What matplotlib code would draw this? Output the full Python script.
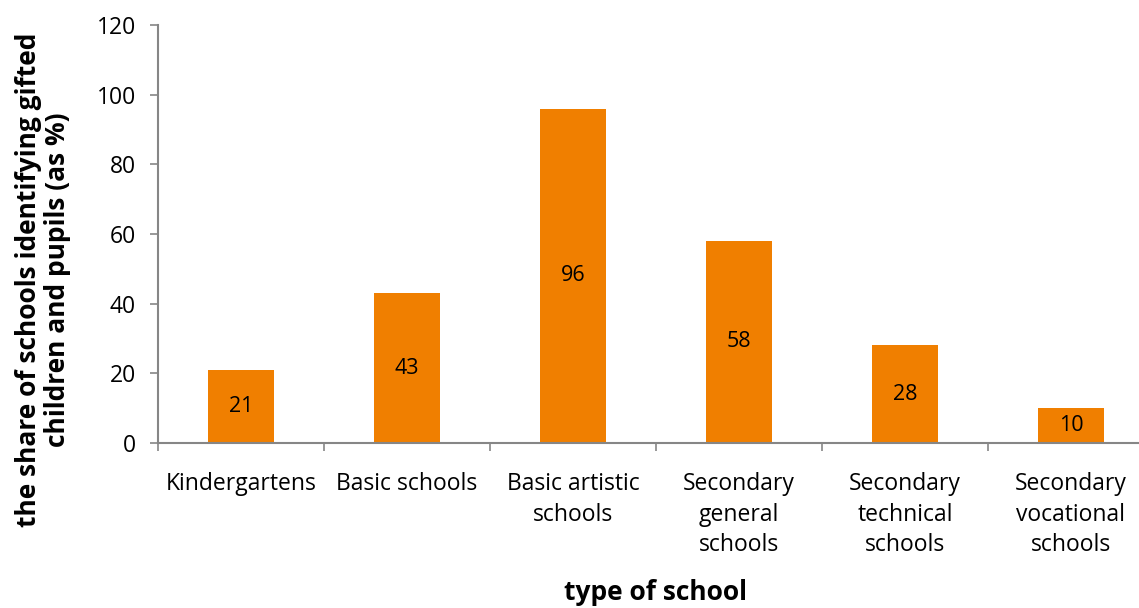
import matplotlib
matplotlib.use("Agg")
import matplotlib.pyplot as plt
import numpy as np

categories = ["Kindergartens", "Basic schools", "Basic artistic\nschools",
              "Secondary\ngeneral\nschools", "Secondary\ntechnical\nschools",
              "Secondary\nvocational\nschools"]
values = [21, 43, 96, 58, 28, 10]
yticks = [0, 20, 40, 60, 80, 100, 120]

plt.rcParams['font.family'] = ['Open Sans', 'DejaVu Sans']

W, H = 1139, 608
fig = plt.figure(figsize=(W/100, H/100), dpi=100)
ax = fig.add_axes([158/W, (H-443)/H, (1154-158)/W, (443-25)/H])

x = np.arange(len(values))
bars = ax.bar(x, values, width=0.4, color="#F07F00", edgecolor="none", zorder=2)
for xi, v in zip(x, values):
    ax.text(xi, v/2, str(v), ha="center", va="center", fontsize=15.5, color="black")

ax.set_xlim(-0.5, len(values)-0.5)
ax.set_ylim(0, 120)
ax.set_yticks(yticks)
ax.set_yticklabels([str(t) for t in yticks], fontsize=16.5)
ax.set_xticks(x)
ax.set_xticklabels(categories, fontsize=16.5, linespacing=1.37)
ax.tick_params(axis="x", length=0, pad=21)
ax.set_xticks(np.arange(len(values)+1)-0.5, minor=True)
ax.tick_params(axis="x", which="minor", length=6, width=1.2, color="#868686")
ax.tick_params(axis="y", length=6, width=1.2, color="#868686", pad=10)

for s in ["top", "right"]:
    ax.spines[s].set_visible(False)
for s in ["left", "bottom"]:
    ax.spines[s].set_color("#868686")
    ax.spines[s].set_linewidth(1.5)

fig.text(656/W, 1-593/H, "type of school", ha="center", va="center",
         fontsize=19, fontweight="bold")
fig.text(43/W, 1-280/H, "the share of schools identifying gifted\nchildren and pupils (as %)",
         ha="center", va="center", rotation=90, fontsize=19, fontweight="bold",
         linespacing=1.05)

fig.savefig("out.png", dpi=100)
